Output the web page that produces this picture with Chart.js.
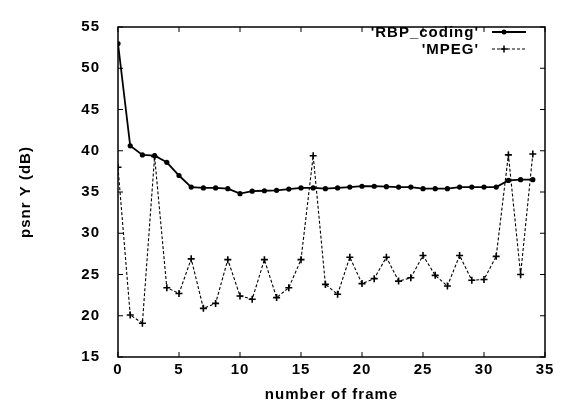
<!DOCTYPE html>
<html>
<head>
<meta charset="utf-8">
<script src="https://cdn.jsdelivr.net/npm/chart.js@4/dist/chart.umd.min.js"></script>
<style>
  html, body { margin: 0; padding: 0; background: #fff; }
  #c { display: block; }
</style>
</head>
<body>
<canvas id="c" width="567" height="408"></canvas>
<script>
// ---- data ----
const frames = [0,1,2,3,4,5,6,7,8,9,10,11,12,13,14,15,16,17,18,19,20,21,22,23,24,25,26,27,28,29,30,31,32,33,34];
const rbpCoding = [53, 40.6, 39.5, 39.4, 38.6, 37.0, 35.6, 35.5, 35.5, 35.4, 34.8, 35.1, 35.15, 35.2, 35.35, 35.5, 35.5, 35.4, 35.5, 35.6, 35.7, 35.7, 35.65, 35.6, 35.6, 35.4, 35.4, 35.4, 35.6, 35.6, 35.6, 35.6, 36.4, 36.5, 36.5];
const mpeg = [38, 20.1, 19.1, 39.3, 23.4, 22.7, 26.9, 20.9, 21.5, 26.8, 22.4, 22.0, 26.8, 22.2, 23.4, 26.8, 39.4, 23.8, 22.6, 27.1, 23.9, 24.5, 27.1, 24.2, 24.6, 27.3, 24.9, 23.6, 27.3, 24.3, 24.4, 27.2, 39.5, 25.0, 39.6];
const seriesNames = ["'RBP_coding'", "'MPEG'"];
const xTitle = 'number of frame';
const yTitle = 'psnr Y (dB)';
const xRange = [0, 35, 5];
const yRange = [15, 55, 5];

const FONT = '"Liberation Sans", Arial, Helvetica, sans-serif';
const LS = '1px';

const toPts = (ys) => frames.map((x, i) => ({x: x, y: ys[i]}));

const spacingPlugin = {
  id: 'spacing',
  beforeLayout(chart) { chart.ctx.letterSpacing = LS; },
  beforeDraw(chart) { chart.ctx.letterSpacing = LS; }
};

const framePlugin = {
  id: 'frame',
  afterDraw(chart) {
    const ctx = chart.ctx;
    const a = chart.chartArea;
    const xs = chart.scales.x, ys = chart.scales.y;
    ctx.save();
    ctx.strokeStyle = '#000';
    ctx.lineWidth = 1.5;
    ctx.strokeRect(a.left, a.top, a.right - a.left, a.bottom - a.top);
    ctx.lineWidth = 1;
    const tl = 5;
    xs.ticks.forEach(t => {
      const px = xs.getPixelForValue(t.value);
      ctx.beginPath();
      ctx.moveTo(px, a.bottom); ctx.lineTo(px, a.bottom - tl);
      ctx.moveTo(px, a.top); ctx.lineTo(px, a.top + tl);
      ctx.stroke();
    });
    ys.ticks.forEach(t => {
      const py = ys.getPixelForValue(t.value);
      ctx.beginPath();
      ctx.moveTo(a.left, py); ctx.lineTo(a.left + tl, py);
      ctx.moveTo(a.right, py); ctx.lineTo(a.right - tl, py);
      ctx.stroke();
    });
    // legend (gnuplot style)
    ctx.font = 'bold 15px ' + FONT;
    ctx.letterSpacing = LS;
    ctx.fillStyle = '#000';
    ctx.textAlign = 'right';
    ctx.textBaseline = 'middle';
    const rows = [32, 49];
    const textR = 479, s0 = 492, s1 = 526;
    chart.data.datasets.forEach((ds, i) => {
      const y = rows[i];
      ctx.fillText(ds.label, textR, y + 1);
      ctx.beginPath();
      ctx.lineWidth = ds.borderWidth;
      ctx.setLineDash(ds.borderDash || []);
      ctx.moveTo(s0, y); ctx.lineTo(s1, y);
      ctx.stroke();
      ctx.setLineDash([]);
      const mx = (s0 + s1) / 2;
      if (ds.pointStyle === 'circle') {
        ctx.beginPath(); ctx.arc(mx - 5, y, 2.5, 0, Math.PI * 2); ctx.fill();
      } else {
        ctx.lineWidth = 1.5;
        ctx.beginPath();
        ctx.moveTo(mx - 5 - 3.5, y); ctx.lineTo(mx - 5 + 3.5, y);
        ctx.moveTo(mx - 5, y - 3.5); ctx.lineTo(mx - 5, y + 3.5);
        ctx.stroke();
      }
    });
    ctx.restore();
  }
};

new Chart(document.getElementById('c'), {
  type: 'line',
  data: {
    datasets: [
      {
        label: seriesNames[0],
        data: toPts(rbpCoding),
        borderColor: '#000',
        backgroundColor: '#000',
        borderWidth: 1.8,
        pointStyle: 'circle',
        pointRadius: 2.6,
        pointBorderWidth: 0,
        pointBackgroundColor: '#000',
        tension: 0
      },
      {
        label: seriesNames[1],
        data: toPts(mpeg),
        borderColor: '#000',
        backgroundColor: '#000',
        borderWidth: 1.1,
        borderDash: [3, 2],
        pointStyle: 'cross',
        pointRadius: 3.5,
        pointBorderWidth: 1.6,
        tension: 0
      }
    ]
  },
  options: {
    responsive: false,
    animation: false,
    events: [],
    layout: { padding: { left: 0, top: 11, right: 22, bottom: 0 } },
    plugins: { legend: { display: false }, tooltip: { enabled: false } },
    scales: {
      x: {
        type: 'linear',
        min: xRange[0], max: xRange[1],
        afterFit(s) { s.height = 51; },
        grid: { display: false, drawTicks: false },
        border: { display: false },
        ticks: { stepSize: xRange[2], color: '#000', padding: 4, font: { family: FONT, size: 15, weight: 'bold' }, maxRotation: 0 },
        title: { display: true, text: xTitle, color: '#000', font: { family: FONT, size: 15, weight: 'bold' }, padding: { top: 0, bottom: 4 } }
      },
      y: {
        type: 'linear',
        min: yRange[0], max: yRange[1],
        afterFit(s) { s.width = 118; },
        grid: { display: false, drawTicks: false },
        border: { display: false },
        ticks: { stepSize: yRange[2], color: '#000', padding: 18, font: { family: FONT, size: 15, weight: 'bold' } },
        title: { display: true, text: yTitle, color: '#000', font: { family: FONT, size: 15, weight: 'bold' }, padding: { top: 17, bottom: 0 } }
      }
    }
  },
  plugins: [spacingPlugin, framePlugin]
});
</script>
</body>
</html>
